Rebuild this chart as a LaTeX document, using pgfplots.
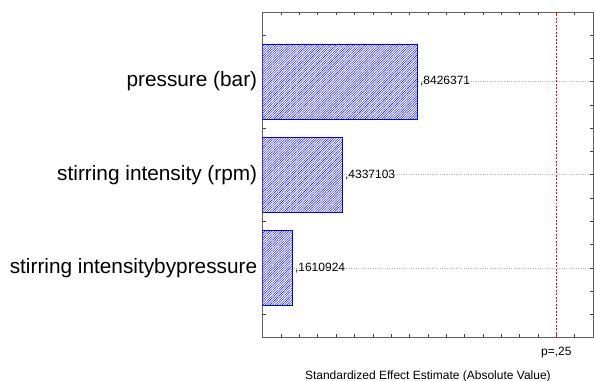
\documentclass[border=0pt]{standalone}
\usepackage{pgfplots}
\pgfplotsset{compat=1.18}
\usepackage{fontspec}
\setmainfont{Liberation Sans}
\usetikzlibrary{patterns.meta}

\definecolor{barblue}{RGB}{0,0,255}
\definecolor{framegray}{RGB}{95,95,95}
\newcommand\plabel{p=,25}

\begin{document}
\begin{tikzpicture}
\begin{axis}[
  name=ax,
  at={(0,0)}, anchor=south west,
  scale only axis,
  width=330.3bp, height=325bp,
  xmin=0, xmax=1.8,
  ymin=-0.74, ymax=2.745,
  xbar, bar width=75bp,
  axis line style={framegray, line width=0.6pt},
  tick style={black!75, line width=0.5pt},
  major tick length=3bp, minor tick length=3bp,
  tick align=inside,
  xtick={0.1,0.2,0.3,0.4,0.5,0.6,0.7,0.8,0.9,1.0,1.1,1.2,1.3,1.4,1.5,1.6,1.7},
  xticklabels={},
  extra x ticks={1.6},
  extra x tick labels={\plabel},
  extra x tick style={major tick length=0pt, grid=none,
    xticklabel style={font=\fontsize{12bp}{14bp}\selectfont, yshift=-6.5bp}},
  ytick={0,1,2},
  yticklabels={stirring intensitybypressure, stirring intensity (rpm), pressure (bar)},
  yticklabel style={font=\fontsize{20.8bp}{24bp}\selectfont, xshift=-2bp},
  minor ytick={-0.5,-0.25,0.25,0.5,0.75,1.25,1.5,1.75,2.25,2.5},
  ymajorgrids,
  grid style={dotted, black!30, line width=0.5pt},
  xlabel={Standardized Effect Estimate (Absolute Value)},
  xlabel style={font=\fontsize{12bp}{14bp}\selectfont, yshift=-6bp},
]
% effect bars with their values printed beside them
\addplot[draw=barblue, line width=0.6pt, fill=white,
  postaction={pattern={Lines[angle=45, distance=1.7pt, line width=0.4pt]}, pattern color=barblue},
  nodes near coords, point meta=explicit symbolic,
  every node near coord/.append style={font=\fontsize{12bp}{14bp}\selectfont, black, anchor=west, inner sep=2.5bp}]
  coordinates {
    (0.1610924,0) [{,1610924}]
    (0.4337103,1) [{,4337103}]
    (0.8426371,2) [{,8426371}]
  };
% significance threshold
\addplot[red, dash pattern=on 2pt off 1.5pt, line width=0.6pt, sharp plot, forget plot]
  coordinates {(1.6,-0.74) (1.6,2.745)};
\end{axis}
\pgfresetboundingbox
\path (-262.7bp,-44bp) rectangle (331.3bp,337bp);
\end{tikzpicture}
\end{document}
